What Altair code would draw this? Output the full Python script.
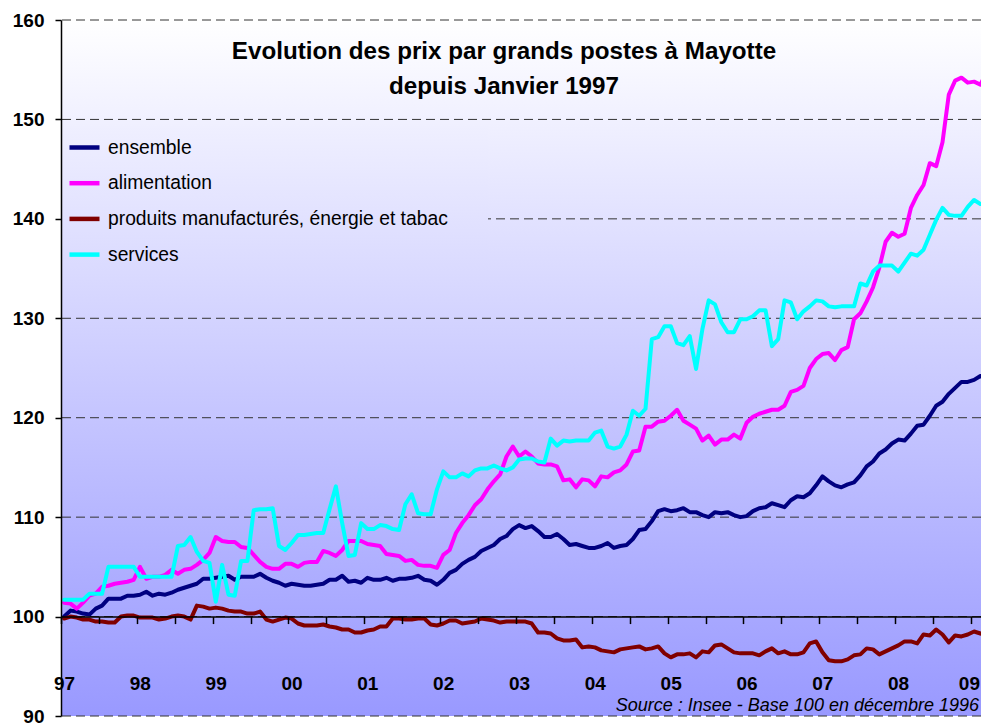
import altair as alt
import pandas as pd

# ---------------- data (monthly indices, Jan 1997 .. Mar 2009) ----------------
series_names = ["ensemble", "alimentation", "produits manufacturés, énergie et tabac", "services"]
series_colors = ["#000080", "#FF00FF", "#800000", "#00FFFF"]
year_labels = ["97", "98", "99", "00", "01", "02", "03", "04", "05", "06", "07", "08", "09"]
grid_values = [90, 100, 110, 120, 130, 140, 150, 160]

ensemble = [
    100.0, 100.6, 100.5, 100.3, 100.2, 100.8, 101.1, 101.8, 101.8, 101.8, 102.1, 102.1,
    102.2, 102.5, 102.1, 102.3, 102.2, 102.4, 102.7, 102.9, 103.1, 103.3, 103.8, 103.8,
    103.9, 104.0, 104.1, 103.7, 104.0, 104.0, 104.0, 104.3, 103.9, 103.6, 103.4, 103.1,
    103.3, 103.2, 103.1, 103.1, 103.2, 103.3, 103.7, 103.7, 104.1, 103.5, 103.6, 103.4,
    103.9, 103.7, 103.7, 103.9, 103.6, 103.8, 103.8, 103.9, 104.1, 103.7, 103.6, 103.2,
    103.7, 104.4, 104.7, 105.3, 105.7, 106.0, 106.6, 106.9, 107.2, 107.8, 108.1, 108.8,
    109.2, 108.9, 109.1, 108.6, 108.0, 108.0, 108.3, 107.8, 107.2, 107.3, 107.1, 106.9,
    106.9, 107.1, 107.4, 106.9, 107.1, 107.2, 107.8, 108.7, 108.8, 109.6, 110.6, 110.8,
    110.6, 110.7, 110.9, 110.5, 110.5, 110.2, 110.0, 110.5, 110.4, 110.5, 110.2, 110.0,
    110.1, 110.6, 110.9, 111.0, 111.4, 111.2, 111.0, 111.7, 112.1, 112.0, 112.4, 113.2,
    114.1, 113.6, 113.2, 113.0, 113.3, 113.5, 114.2, 115.1, 115.6, 116.4, 116.8, 117.4,
    117.8, 117.7, 118.4, 119.2, 119.3, 120.2, 121.2, 121.6, 122.4, 123.0, 123.6, 123.6,
    123.8, 124.2, 123.9,
]
alimentation = [
    101.4, 101.3, 100.8, 101.4, 102.1, 102.3, 103.0, 103.1, 103.3, 103.4, 103.5, 103.7,
    105.0, 103.8, 104.0, 104.0, 104.2, 104.7, 104.3, 104.7, 104.8, 105.2, 105.7, 106.4,
    108.0, 107.6, 107.5, 107.5, 107.0, 106.9, 106.2, 105.5, 105.0, 104.8, 104.8, 105.3,
    105.3, 105.0, 105.4, 105.5, 105.5, 106.6, 106.4, 106.1, 106.7, 107.6, 107.6, 107.6,
    107.3, 107.2, 107.1, 106.3, 106.2, 106.1, 105.6, 105.7, 105.2, 105.1, 105.1, 104.9,
    106.2, 106.7, 108.4, 109.4, 110.2, 111.2, 111.8, 112.8, 113.6, 114.3, 116.1, 117.1,
    116.1, 116.6, 116.1, 115.4, 115.3, 115.3, 115.1, 113.7, 113.8, 113.0, 113.8, 113.7,
    113.1, 114.1, 114.0, 114.5, 114.7, 115.3, 116.6, 116.7, 119.1, 119.1, 119.6, 119.7,
    120.2, 120.8, 119.7, 119.3, 118.9, 117.7, 118.2, 117.3, 117.8, 117.8, 118.3, 117.9,
    119.5, 120.1, 120.4, 120.6, 120.8, 120.8, 121.2, 122.6, 122.8, 123.2, 125.0, 125.9,
    126.4, 126.5, 125.8, 126.8, 127.1, 129.9, 130.5, 131.7, 133.1, 135.1, 137.7, 138.6,
    138.2, 138.5, 141.1, 142.4, 143.4, 145.6, 145.3, 147.7, 152.5, 153.9, 154.2, 153.7,
    153.8, 153.5, 154.8,
]
produits = [
    99.8, 100.0, 99.9, 99.7, 99.7, 99.5, 99.5, 99.4, 99.4, 100.0, 100.1, 100.1,
    99.9, 99.9, 99.9, 99.7, 99.8, 100.0, 100.1, 100.0, 99.7, 101.1, 101.0, 100.8,
    100.9, 100.8, 100.6, 100.5, 100.5, 100.3, 100.3, 100.5, 99.7, 99.5, 99.7, 99.9,
    99.8, 99.3, 99.1, 99.1, 99.1, 99.2, 99.0, 98.9, 98.7, 98.7, 98.4, 98.4,
    98.6, 98.7, 99.0, 99.0, 99.8, 99.8, 99.7, 99.7, 99.8, 99.8, 99.2, 99.1,
    99.3, 99.6, 99.6, 99.3, 99.4, 99.5, 99.8, 99.7, 99.6, 99.4, 99.5, 99.5,
    99.5, 99.5, 99.3, 98.4, 98.4, 98.3, 97.8, 97.6, 97.6, 97.7, 96.9, 97.0,
    96.9, 96.6, 96.5, 96.4, 96.7, 96.8, 96.9, 97.0, 96.7, 96.8, 97.0, 96.3,
    95.9, 96.2, 96.2, 96.3, 95.9, 96.5, 96.4, 97.1, 97.2, 96.8, 96.4, 96.3,
    96.3, 96.3, 96.1, 96.5, 96.8, 96.3, 96.5, 96.2, 96.2, 96.4, 97.3, 97.5,
    96.4, 95.6, 95.5, 95.5, 95.7, 96.1, 96.2, 96.8, 96.7, 96.2, 96.5, 96.8,
    97.1, 97.5, 97.5, 97.3, 98.2, 98.1, 98.7, 98.2, 97.4, 98.1, 98.0, 98.2,
    98.5, 98.3, 98.1,
]
services = [
    101.7, 101.7, 101.7, 101.7, 102.3, 102.3, 102.3, 105.0, 105.0, 105.0, 105.0, 105.0,
    104.0, 104.0, 104.0, 104.0, 104.0, 104.0, 107.1, 107.2, 108.0, 106.5, 105.6, 105.4,
    101.5, 105.2, 102.2, 102.1, 105.6, 105.6, 110.7, 110.8, 110.8, 110.9, 107.1, 106.7,
    107.4, 108.2, 108.2, 108.3, 108.4, 108.4, 110.8, 113.1, 109.4, 106.1, 106.2, 109.4,
    108.8, 108.8, 109.2, 109.1, 108.8, 108.7, 111.3, 112.3, 110.4, 110.3, 110.3, 112.8,
    114.6, 114.0, 114.0, 114.4, 114.1, 114.7, 114.9, 114.9, 115.2, 114.9, 114.7, 115.0,
    115.8, 115.9, 115.9, 115.6, 115.5, 117.9, 117.2, 117.7, 117.6, 117.7, 117.7, 117.7,
    118.5, 118.7, 117.1, 116.9, 117.1, 118.3, 120.7, 120.2, 120.9, 127.9, 128.1, 129.2,
    129.2, 127.5, 127.3, 128.2, 124.9, 128.9, 131.8, 131.4, 129.6, 128.6, 128.6, 129.9,
    129.9, 130.2, 130.8, 130.8, 127.2, 127.9, 131.8, 131.6, 129.9, 130.7, 131.2, 131.8,
    131.7, 131.2, 131.1, 131.2, 131.2, 131.2, 133.5, 133.3, 134.7, 135.3, 135.3, 135.3,
    134.7, 135.6, 136.5, 136.3, 136.9, 138.4, 139.9, 141.1, 140.4, 140.3, 140.3, 141.2,
    141.9, 141.5, 141.5,
]

title_lines = ["Evolution des prix par grands postes à Mayotte", "depuis Janvier 1997"]
source_text = "Source : Insee - Base 100 en décembre 1996"

# ---------------- tables ----------------
rows = []
for name, vals in zip(series_names, [ensemble, alimentation, produits, services]):
    for i, v in enumerate(vals):
        rows.append({"mois": i, "indice": v, "poste": name})
df = pd.DataFrame(rows)
grid_df = pd.DataFrame({"indice": grid_values})
one = pd.DataFrame({"k": [0]})

# ---------------- layout ----------------
W, H = 920, 696
PX_PER_MONTH = 6.319
FONT = "Liberation Sans"

top_col = (255, 255, 255)
bot_col = (153, 153, 255)


def mix(t):
    return "#%02x%02x%02x" % tuple(round(a + (b - a) * t) for a, b in zip(top_col, bot_col))


x_scale = alt.Scale(domain=[-0.5, -0.5 + W / PX_PER_MONTH], nice=False, zero=False)
y_scale = alt.Scale(domain=[90, 160], nice=False, zero=False)

labels_js = "[" + ",".join("'%s'" % s for s in year_labels) + "]"
label_expr = "((datum.value + 0.5) % 12 == 0) ? " + labels_js + "[(datum.value + 0.5) / 12] : ''"

x_axis = alt.Axis(
    values=[-0.5 + 6 * k for k in range(25)],
    labelExpr=label_expr,
    orient="bottom",
    offset=-H * 10 / 70,
    domainColor="black", domainWidth=1.5,
    tickColor="black", tickSize=7, tickWidth=1.5,
    labelFont=FONT, labelFontSize=19, labelFontWeight="bold", labelColor="black",
    labelPadding=51,
    labelOffset={"condition": {"test": "datum.value > 140", "value": -2}, "value": 3},
    labelFlush=False, labelOverlap=False,
    grid=False, title=None, zindex=1,
)
y_axis = alt.Axis(
    values=grid_values,
    orient="left",
    domainColor="black", domainWidth=1.5,
    tickColor="black", tickSize=6, tickWidth=1.5,
    labelFont=FONT, labelFontSize=19, labelFontWeight="bold", labelColor="black",
    labelPadding=11, grid=False, title=None, zindex=1,
)

bg = alt.Chart(one).mark_rect(
    fill=alt.LinearGradient(
        gradient="linear", x1=0, y1=0, x2=0, y2=1,
        stops=[alt.GradientStop(color=mix(0), offset=0), alt.GradientStop(color=mix(1), offset=1)],
    )
).encode(x=alt.value(0), x2=alt.value(W), y=alt.value(0), y2=alt.value(H))

grid = alt.Chart(grid_df).mark_rule(color="#333333", strokeWidth=1, strokeDash=[9, 5]).encode(
    y=alt.Y("indice:Q", scale=y_scale, axis=y_axis)
)

c_y0, c_y1 = 106, 252
cover = alt.Chart(one).mark_rect(
    fill=alt.LinearGradient(
        gradient="linear", x1=0, y1=0, x2=0, y2=1,
        stops=[alt.GradientStop(color=mix(c_y0 / H), offset=0), alt.GradientStop(color=mix(c_y1 / H), offset=1)],
    )
).encode(x=alt.value(1), x2=alt.value(427), y=alt.value(c_y0), y2=alt.value(c_y1))

lines = alt.Chart(df).mark_line(strokeWidth=4, clip=True, strokeJoin="round", strokeCap="round").encode(
    x=alt.X("mois:Q", scale=x_scale, axis=x_axis),
    y=alt.Y("indice:Q", scale=y_scale, axis=y_axis),
    color=alt.Color(
        "poste:N",
        scale=alt.Scale(domain=series_names, range=series_colors),
        legend=alt.Legend(
            orient="none", legendX=6, legendY=110, title=None,
            symbolType="stroke", symbolSize=900, symbolStrokeWidth=4.5,
            labelFont=FONT, labelFontSize=19.3, labelColor="black", labelOffset=6,
            rowPadding=7.7, labelLimit=800, padding=0,
        ),
    ),
    order=alt.Order("mois:Q"),
)

title = alt.Chart(one).mark_text(
    text=title_lines, font=FONT, fontSize=24.2, fontWeight="bold", color="black",
    align="center", baseline="alphabetic", lineHeight=35,
).encode(x=alt.value(443), y=alt.value(39))

source = alt.Chart(one).mark_text(
    text=source_text, font=FONT, fontSize=18, fontStyle="italic", color="black",
    align="right", baseline="alphabetic",
).encode(x=alt.value(918), y=alt.value(691))

chart = alt.layer(bg, grid, cover, lines, title, source).properties(
    width=W, height=H,
    padding={"left": 53, "top": 12, "right": 0, "bottom": 14},
    autosize=alt.AutoSizeParams(type="none"),
    background="white",
).configure_view(stroke=None)

chart.save("out.html", embed_options={"renderer": "svg", "actions": False})
